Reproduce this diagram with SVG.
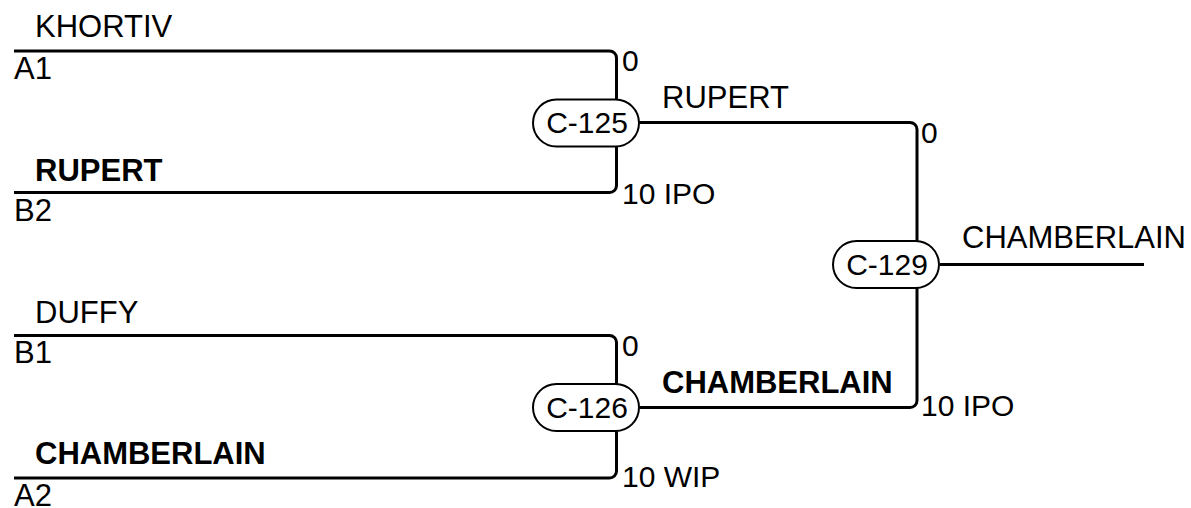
<svg xmlns="http://www.w3.org/2000/svg" width="1191" height="508" viewBox="0 0 1191 508">
<style>
text{font-family:"Liberation Sans",Arial,sans-serif;font-size:31px;fill:#000}
.b{font-weight:bold}
.n{font-size:30px}
.ln{fill:none;stroke:#000;stroke-width:3}
.pill{fill:#fff;stroke:#000;stroke-width:2}
.c{text-anchor:middle;font-size:30px}
</style>
<rect width="1191" height="508" fill="#fff"/>
<g id="connectors">
<path class="ln" d="M14 51 H609.5 a7 7 0 0 1 7 7 V100"/>
<path class="ln" d="M14 192.5 H609.5 a7 7 0 0 0 7 -7 V146"/>
<path class="ln" d="M14 335.5 H609.5 a7 7 0 0 1 7 7 V384"/>
<path class="ln" d="M14 478 H609.5 a7 7 0 0 0 7 -7 V431"/>
<path class="ln" d="M639 122.5 H910 a7 7 0 0 1 7 7 V242"/>
<path class="ln" d="M640 407.5 H910 a7 7 0 0 0 7 -7 V287"/>
<path class="ln" d="M940 264.5 H1144"/>
</g>
<g id="inputs">
<text x="35" y="37">KHORTIV</text>
<text x="14" y="79">A1</text>
<text class="b" x="35" y="181">RUPERT</text>
<text x="14" y="221">B2</text>
<text x="35" y="323">DUFFY</text>
<text x="14" y="363">B1</text>
<text class="b" x="35" y="464">CHAMBERLAIN</text>
<text x="14" y="506">A2</text>
</g>
<g id="labels">
<text class="n" x="622" y="71">0</text>
<text class="n" x="622" y="204">10 IPO</text>
<text class="n" x="622" y="356">0</text>
<text class="n" x="622" y="487">10 WIP</text>
<text class="n" x="921" y="143">0</text>
<text class="n" x="921" y="416">10 IPO</text>
<text x="662" y="108">RUPERT</text>
<text class="b" x="662" y="393">CHAMBERLAIN</text>
<text x="962" y="248">CHAMBERLAIN</text>
</g>
<g id="C-125">
<rect class="pill" x="533" y="99.5" width="106" height="47" rx="23.5"/>
<text class="c" x="587" y="133">C-125</text>
</g>
<g id="C-126">
<rect class="pill" x="533" y="384" width="106" height="47" rx="23.5"/>
<text class="c" x="587" y="418">C-126</text>
</g>
<g id="C-129">
<rect class="pill" x="833" y="241" width="106" height="47" rx="23.5"/>
<text class="c" x="887" y="275">C-129</text>
</g>
</svg>
